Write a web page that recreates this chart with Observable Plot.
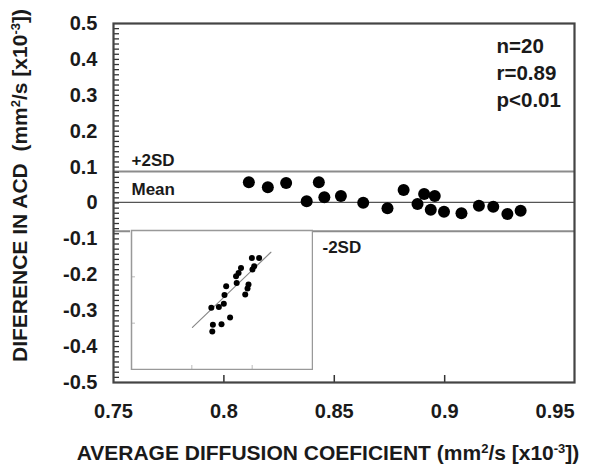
<!DOCTYPE html>
<html><head><meta charset="utf-8">
<script src="https://cdn.jsdelivr.net/npm/d3@7"></script>
<script src="https://cdn.jsdelivr.net/npm/@observablehq/plot@0.6"></script>
<style>
body{margin:0;background:#fff;}
#chart{position:relative;width:603px;height:464px;}
#inset{position:absolute;left:130px;top:229px;}
</style></head>
<body><div id="chart"><div id="inset"></div></div>
<script>
// Bland-Altman data (average ADC vs difference)
const avgADC  = [0.8113,0.8199,0.8282,0.8430,0.8375,0.8455,0.8530,0.8631,0.8741,0.8814,0.8877,0.8907,0.8955,0.8937,0.8997,0.9076,0.9155,0.9220,0.9284,0.9344];
const diffADC = [0.0575,0.0436,0.0558,0.0575,0.0046,0.0157,0.0196,0.0010,-0.0149,0.0363,-0.0026,0.0252,0.0196,-0.0185,-0.0241,-0.0288,-0.0074,-0.0102,-0.0305,-0.0213];
const meanDiff = 0.002, plus2SD = 0.088, minus2SD = -0.079;

// Inset correlation data
const insetX = [0.8995,0.9115,0.9033,0.9005,0.8815,0.8775,0.8733,0.8743,0.8939,0.8923,0.8885,0.8569,0.8541,0.8530,0.8448,0.8323,0.8634,0.8492,0.8349,0.8339];
const insetY = [0.9405,0.9405,0.9227,0.9156,0.9191,0.9083,0.9013,0.8869,0.8835,0.8749,0.8621,0.8799,0.8606,0.8420,0.8349,0.8334,0.8120,0.7979,0.7964,0.7820];
const fitX = [0.801, 0.931];
const fitY = [0.791, 0.953];
const insetTicks = [0.8, 0.9];

// Axis ticks and labels
const yTicks = [-0.5,-0.4,-0.3,-0.2,-0.1,0,0.1,0.2,0.3,0.4,0.5];
const yTickLabels = ["-0.5","-0.4","-0.3","-0.2","-0.1","0","0.1","0.2","0.3","0.4","0.5"];
const xTicks = [0.75,0.8,0.85,0.9,0.95];
const xTickLabels = ["0.75","0.8","0.85","0.9","0.95"];
const xTickMarks = [0.8,0.85,0.9];
const yMinorStep = 0.1/7;
const yMinor = d3.range(1,70).map(i => -0.5 + i*yMinorStep);

const statsLines = ["n=20","r=0.89","p<0.01"];
const sdLabels = ["+2SD","Mean","-2SD"];
const xTitle = ["AVERAGE DIFFUSION COEFICIENT (mm","2","/s [x10","-3","])"];
const yTitle = ["DIFERENCE IN ACD  (mm","2","/s [x10","-3","])"];

const W=603, H=464, mL=113, mR=29, mT=23, mB=82;
const frameW = W-mL-mR, frameH = H-mT-mB;
const idx = d3.range(avgADC.length);
const font = "'Liberation Sans', Arial, sans-serif";

const main = Plot.plot({
  width: W, height: H, marginLeft: mL, marginRight: mR, marginTop: mT, marginBottom: mB,
  x: {domain: [0.75, 0.9588]},
  y: {domain: [-0.5, 0.5]},
  style: {fontFamily: font, fontWeight: "bold", color: "#1a1a1a", background: "white"},
  marks: [
    Plot.ruleY([plus2SD, minus2SD], {stroke: "#8c8c8c", strokeWidth: 2}),
    Plot.ruleY([meanDiff], {stroke: "#555", strokeWidth: 1.3}),
    Plot.tickY(yMinor, {y: d => d, stroke: "#333", strokeWidth: 1.3, insetRight: frameW - 6}),
    Plot.tickX(xTickMarks, {x: d => d, stroke: "#333", strokeWidth: 1.5, insetTop: frameH - 7}),
    Plot.axisY({ticks: yTicks, tickSize: 0, tickPadding: 16, fontSize: 20, fontWeight: "bold",
      tickFormat: d => yTickLabels[yTicks.indexOf(d)]}),
    Plot.axisX({ticks: xTicks, tickSize: 0, tickPadding: 21, fontSize: 20, fontWeight: "bold",
      tickFormat: d => xTickLabels[xTicks.indexOf(d)]}),
    Plot.dot(idx, {x: i => avgADC[i], y: i => diffADC[i], r: 6, fill: "#000"}),
    Plot.text([sdLabels[0]], {y: [plus2SD], frameAnchor: "left", textAnchor: "start", dx: 18, dy: -10.7, fontSize: 17}),
    Plot.text([sdLabels[1]], {y: [meanDiff], frameAnchor: "left", textAnchor: "start", dx: 18, dy: -12.7, fontSize: 17}),
    Plot.text([sdLabels[2]], {y: [minus2SD], frameAnchor: "left", textAnchor: "start", dx: 209, dy: 16.3, fontSize: 17}),
    Plot.text([statsLines.join("\n")], {frameAnchor: "top-left", textAnchor: "start", lineAnchor: "top",
      dx: 383, dy: 11, lineHeight: 1.3, fontSize: 20.5}),
    Plot.text([yTitle.join("")], {frameAnchor: "left", textAnchor: "middle", dx: -93, dy: -17.5, rotate: -90, fontSize: 21, lineAnchor: "middle"}),
    Plot.text([xTitle.join("")], {frameAnchor: "bottom", textAnchor: "middle", dx: -16, dy: 70.5, fontSize: 21, lineAnchor: "middle"}),
    Plot.frame({stroke: "#444", strokeWidth: 2.2})
  ]
});

function superscriptify(svg, parts) {
  const plain = parts.join("");
  svg.querySelectorAll("text").forEach(t => {
    if (t.textContent === plain) {
      t.textContent = "";
      parts.forEach((p, i) => {
        const ts = document.createElementNS("http://www.w3.org/2000/svg", "tspan");
        ts.textContent = p;
        if (i % 2 === 1) { ts.setAttribute("baseline-shift", "super"); ts.style.fontSize = "62%"; }
        t.appendChild(ts);
      });
    }
  });
}
superscriptify(main, xTitle);
superscriptify(main, yTitle);

const chart = document.getElementById("chart");
chart.insertBefore(main, chart.firstChild);

const insetIdx = d3.range(insetX.length);
const inset = Plot.plot({
  width: 183, height: 141, margin: 1,
  x: {domain: [0.7, 1.0], axis: null},
  y: {domain: [0.7, 1.0], axis: null},
  style: {background: "white"},
  marks: [
    Plot.tickY(insetTicks, {y: d => d, stroke: "#bbb", insetRight: 181 - 4}),
    Plot.tickX(insetTicks, {x: d => d, stroke: "#bbb", insetTop: 139 - 4}),
    Plot.line(d3.range(fitX.length), {x: i => fitX[i], y: i => fitY[i], stroke: "#888", strokeWidth: 1.2}),
    Plot.dot(insetIdx, {x: i => insetX[i], y: i => insetY[i], r: 3, fill: "#000"}),
    Plot.frame({stroke: "#999", strokeWidth: 1.5})
  ]
});
document.getElementById("inset").appendChild(inset);
</script>
</body></html>
